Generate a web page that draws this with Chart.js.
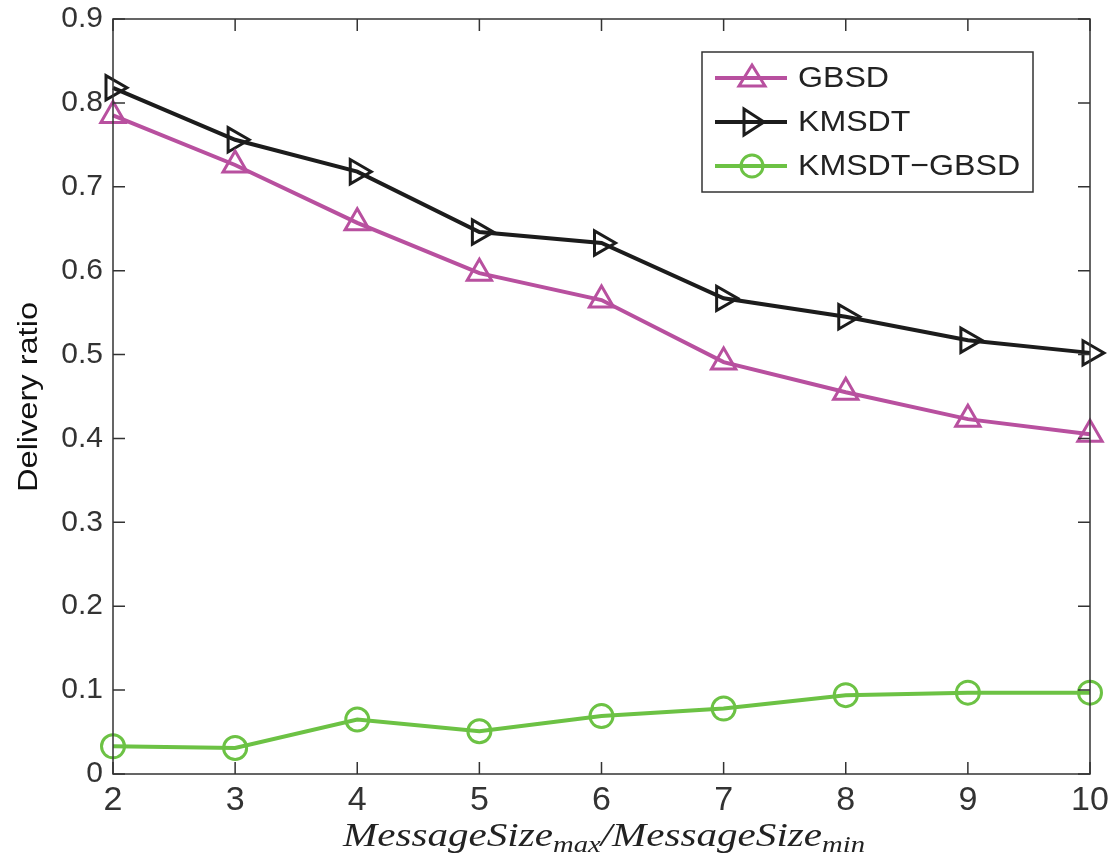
<!DOCTYPE html>
<html><head><meta charset="utf-8">
<script src="https://cdn.jsdelivr.net/npm/chart.js@4/dist/chart.umd.min.js"></script>
<style>html,body{margin:0;padding:0;background:#fff;}#wrap{width:1118px;height:858px;}</style>
</head><body><div id="wrap"><canvas id="c" width="1118" height="858"></canvas></div>
<script>
const categories = [2, 3, 4, 5, 6, 7, 8, 9, 10];
const gbsd = [0.785, 0.726, 0.657, 0.597, 0.565, 0.491, 0.455, 0.423, 0.405];
const kmsdt = [0.818, 0.756, 0.718, 0.646, 0.633, 0.567, 0.545, 0.517, 0.502];
const diff = [0.033, 0.031, 0.065, 0.051, 0.069, 0.078, 0.094, 0.097, 0.097];
const yTicks = [0, 0.1, 0.2, 0.3, 0.4, 0.5, 0.6, 0.7, 0.8, 0.9];
const seriesNames = ['GBSD', 'KMSDT', 'KMSDT\u2212GBSD'];
const colors = ['#b8509f', '#1c1c1c', '#6cc244'];

const FONT = '"Liberation Sans", Arial, sans-serif';
const NARROW = '"Liberation Sans Narrow", "Liberation Sans", Arial, sans-serif';
const tickColor = '#333333';

function pts(arr){ return arr.map((v,i)=>({x:categories[i], y:v})); }

const decor = {
  id: 'decor',
  afterDraw(chart){
    const ctx = chart.ctx, a = chart.chartArea;
    const xs = chart.scales.x, ys = chart.scales.y;
    ctx.save();
    ctx.strokeStyle = '#333'; ctx.lineWidth = 1.5;
    ctx.strokeRect(a.left, a.top, a.right - a.left, a.bottom - a.top);
    const tl = 12;
    ctx.beginPath();
    categories.forEach(v=>{
      const px = xs.getPixelForValue(v);
      ctx.moveTo(px, a.bottom); ctx.lineTo(px, a.bottom - tl);
      ctx.moveTo(px, a.top); ctx.lineTo(px, a.top + tl);
    });
    yTicks.forEach(v=>{
      const py = ys.getPixelForValue(v);
      ctx.moveTo(a.left, py); ctx.lineTo(a.left + tl, py);
      ctx.moveTo(a.right, py); ctx.lineTo(a.right - tl, py);
    });
    ctx.stroke();

    // y title
    ctx.fillStyle = '#111';
    ctx.font = '27px ' + FONT;
    ctx.textAlign = 'center'; ctx.textBaseline = 'middle';
    const yw = ctx.measureText('Delivery ratio').width;
    ctx.translate(30, 397);
    ctx.rotate(-Math.PI/2);
    ctx.scale(190 / yw, 1);
    ctx.fillText('Delivery ratio', 0, 0);
    ctx.setTransform(1,0,0,1,0,0);

    // x title with subscripts
    const parts = [
      {t:'MessageSize', sub:false},{t:'max', sub:true},{t:'/', sub:false},
      {t:'MessageSize', sub:false},{t:'min', sub:true}
    ];
    const mainF = 'italic 33px "Liberation Serif", "DejaVu Serif", serif';
    const subF = 'italic 23px "Liberation Serif", "DejaVu Serif", serif';
    let total = 0;
    parts.forEach(p=>{ ctx.font = p.sub?subF:mainF; p.w = ctx.measureText(p.t).width; total += p.w; });
    const targetW = 522, sx = targetW / total;
    ctx.translate(604 - targetW/2, 846);
    ctx.scale(sx, 1);
    let x = 0;
    ctx.textAlign = 'left'; ctx.textBaseline = 'alphabetic';
    ctx.fillStyle = '#222';
    parts.forEach(p=>{
      ctx.font = p.sub?subF:mainF;
      ctx.fillText(p.t, x, p.sub ? 6 : 0);
      x += p.w;
    });
    ctx.setTransform(1,0,0,1,0,0);

    // legend
    const lx = 702, ly = 52, lw = 331, lh = 140;
    ctx.fillStyle = '#fff';
    ctx.fillRect(lx, ly, lw, lh);
    ctx.strokeStyle = '#333'; ctx.lineWidth = 1.5;
    ctx.strokeRect(lx, ly, lw, lh);
    chart.data.datasets.forEach((ds, i)=>{
      const cy = ly + 26 + i*44;
      ctx.strokeStyle = ds.borderColor; ctx.lineWidth = 4;
      ctx.beginPath(); ctx.moveTo(lx + 13, cy); ctx.lineTo(lx + 85, cy); ctx.stroke();
      ctx.lineWidth = 3;
      const mx = lx + 50;
      ctx.beginPath();
      if (ds.pointStyle === 'circle') {
        ctx.arc(mx, cy, 11, 0, Math.PI*2);
      } else if (ds.pointRotation === 90) {
        ctx.moveTo(mx - 8, cy - 13); ctx.lineTo(mx + 12, cy); ctx.lineTo(mx - 8, cy + 13); ctx.closePath();
      } else {
        ctx.moveTo(mx, cy - 13); ctx.lineTo(mx + 13, cy + 8); ctx.lineTo(mx - 13, cy + 8); ctx.closePath();
      }
      ctx.stroke();
      ctx.fillStyle = '#222';
      ctx.font = '30px ' + FONT;
      ctx.textAlign = 'left'; ctx.textBaseline = 'middle';
      ctx.save();
      ctx.translate(lx + 96, cy + 1);
      ctx.scale(1.07, 1);
      ctx.fillText(ds.label, 0, 0);
      ctx.restore();
    });
    ctx.restore();
  }
};

const datasets = [
  {label: seriesNames[0], data: pts(gbsd), borderColor: colors[0], pointStyle: 'triangle', pointRotation: 0, pointRadius: 14},
  {label: seriesNames[1], data: pts(kmsdt), borderColor: colors[1], pointStyle: 'triangle', pointRotation: 90, pointRadius: 14},
  {label: seriesNames[2], data: pts(diff), borderColor: colors[2], pointStyle: 'circle', pointRotation: 0, pointRadius: 11.5}
].map(d=>Object.assign(d, {
  borderWidth: 4, pointBorderWidth: 3,
  pointBackgroundColor: 'rgba(0,0,0,0)', pointBorderColor: d.borderColor,
  backgroundColor: 'rgba(0,0,0,0)', tension: 0, clip: false
}));

new Chart(document.getElementById('c'), {
  type: 'line',
  data: { datasets },
  options: {
    responsive: false, animation: false,
    layout: { padding: { top: 19, right: 28, left: 0, bottom: 0 } },
    plugins: { legend: {display: false}, tooltip: {enabled: false} },
    scales: {
      x: {
        type: 'linear', min: 2, max: 10,
        afterFit(s){ s.height = 84; s.paddingLeft = 0; s.paddingRight = 0; },
        afterBuildTicks(s){ s.ticks = categories.map(v=>({value:v})); },
        grid: { display: true, drawOnChartArea: false, drawTicks: false },
        border: { display: false },
        ticks: { color: tickColor, font: {family: NARROW, size: 34}, padding: 6, maxRotation: 0 }
      },
      y: {
        min: 0, max: 0.9,
        afterFit(s){ s.width = 113; s.paddingTop = 0; s.paddingBottom = 0; },
        afterBuildTicks(s){ s.ticks = yTicks.map(v=>({value:v})); },
        grid: { display: true, drawOnChartArea: false, drawTicks: false },
        border: { display: false },
        ticks: { color: tickColor, font: {family: FONT, size: 30}, padding: 10,
          callback: v => (v === 0 ? '0' : v.toFixed(1)) }
      }
    }
  },
  plugins: [decor]
});
</script></body></html>
